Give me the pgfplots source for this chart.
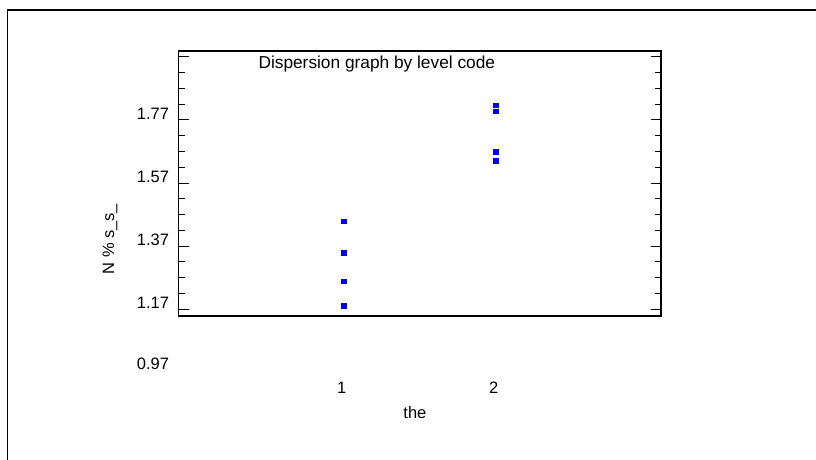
\documentclass[border=0pt]{standalone}
\usepackage{pgfplots}
\pgfplotsset{compat=1.18}
\usepackage{fontspec}
\setmainfont{Liberation Sans}
\begin{document}
\begin{tikzpicture}[x=1pt,y=1pt]
\path[use as bounding box] (0,0) rectangle (816,460);
\draw[line width=1.3pt] (7.7,-5) -- (7.7,450) -- (830,450);
\begin{axis}[
  at={(178.5pt,144pt)}, anchor=south west,
  width=482.5pt, height=265pt, scale only axis,
  xmin=-0.087, xmax=3.087,
  ymin=1.149, ymax=1.988,
  axis line style={line width=1.6pt},
  font=\fontsize{16.5}{19}\selectfont,
  /pgf/number format/assume math mode=true,
  xtick={1,2}, xticklabels={1,2},
  x tick style={draw=none},
  xticklabel style={anchor=center, xshift=-2pt, yshift=-72pt},
  ytick={1.17,1.37,1.57,1.77,1.97},
  yticklabels={1.17,1.37,1.57,1.77,},
  minor y tick num=3,
  ytick pos=both,
  tick align=inside,
  major tick length=10pt, minor tick length=6pt,
  y tick style={line width=1pt, black},
  yticklabel style={xshift=-6pt, yshift=6.5pt},
  xlabel={the},
  xlabel style={at={(axis description cs:0.490,-0.366)}, anchor=center},
  ylabel={N \% s\_s\_},
  ylabel style={at={(axis description cs:-0.142,0.290)}, anchor=center},
  title={Dispersion graph by level code},
  title style={at={(axis description cs:0.411,0.930)}, anchor=center, font=\fontsize{17.3}{20}\selectfont},
  clip=false,
]
\addplot[only marks, mark=square*, mark size=2.3pt, color=blue, mark options={draw=blue, fill=blue}]
coordinates {
(1,1.449) (1,1.349) (1,1.259) (1,1.182)
(2,1.817) (2,1.798) (2,1.669) (2,1.641)
};
\node[anchor=east, xshift=-6pt, yshift=9pt] at (axis cs:-0.087,0.97) {0.97};
\end{axis}
\end{tikzpicture}
\end{document}
